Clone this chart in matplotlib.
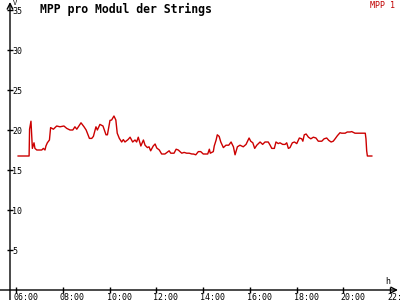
import matplotlib
matplotlib.use("Agg")
import matplotlib.pyplot as plt
import matplotlib.transforms as mtransforms

plt.rcParams['font.family'] = 'DejaVu Sans Mono'

# time of day in hours, string MPP in V
hours = [6.09, 6.56, 6.58, 6.64, 6.70, 6.77, 6.81, 6.89, 7.03, 7.10,
         7.17, 7.24, 7.28, 7.34, 7.43, 7.48, 7.60, 7.74, 7.88, 8.05,
         8.17, 8.31, 8.43, 8.52, 8.60, 8.78, 8.91, 9.00, 9.14, 9.24,
         9.31, 9.42, 9.48, 9.59, 9.72, 9.85, 9.91, 10.02, 10.09, 10.19,
         10.27, 10.33, 10.42, 10.52, 10.59, 10.66, 10.79, 10.88, 10.99, 11.09,
         11.16, 11.23, 11.34, 11.45, 11.52, 11.62, 11.69, 11.76, 11.87, 11.95,
         12.02, 12.13, 12.23, 12.37, 12.55, 12.62, 12.76, 12.85, 12.94, 13.09,
         13.19, 13.30, 13.41, 13.52, 13.59, 13.69, 13.80, 13.90, 14.01, 14.13,
         14.20, 14.27, 14.31, 14.44, 14.48, 14.56, 14.61, 14.69, 14.76, 14.87,
         14.98, 15.10, 15.20, 15.30, 15.37, 15.41, 15.47, 15.58, 15.72, 15.84,
         15.97, 16.04, 16.13, 16.21, 16.30, 16.44, 16.55, 16.65, 16.79, 16.87,
         16.94, 17.05, 17.12, 17.22, 17.29, 17.41, 17.51, 17.58, 17.65, 17.72,
         17.82, 17.91, 18.01, 18.12, 18.22, 18.27, 18.33, 18.41, 18.51, 18.61,
         18.72, 18.83, 18.93, 19.08, 19.18, 19.29, 19.38, 19.48, 19.57, 19.65,
         19.75, 19.86, 19.93, 20.08, 20.17, 20.29, 20.36, 20.43, 20.50, 20.94,
         20.97, 21.00, 21.03, 21.22]
mpp_1 = [16.75, 16.75, 20.1, 21.1, 17.7, 18.4, 17.7, 17.5, 17.5, 17.5,
         17.7, 17.5, 18.0, 18.4, 18.75, 20.3, 20.1, 20.5, 20.4, 20.5,
         20.2, 20.0, 20.0, 20.4, 20.1, 20.9, 20.4, 20.0, 18.95, 18.95,
         19.2, 20.4, 20.0, 20.7, 20.5, 19.4, 19.4, 21.2, 21.25, 21.75,
         21.25, 19.6, 18.95, 18.5, 18.8, 18.5, 18.8, 19.1, 18.5, 18.75,
         18.5, 19.1, 18.0, 18.75, 18.1, 17.8, 17.9, 17.4, 18.0, 18.25,
         17.75, 17.5, 17.0, 17.0, 17.4, 17.1, 17.1, 17.6, 17.5, 17.1,
         17.2, 17.1, 17.1, 17.0, 17.0, 16.9, 17.3, 17.3, 17.0, 17.0,
         17.0, 17.6, 17.1, 17.3, 18.0, 18.75, 19.4, 19.2, 18.5, 17.8,
         18.1, 18.1, 18.5, 17.9, 16.9, 17.3, 17.9, 18.1, 17.9, 18.2,
         19.0, 18.6, 18.4, 17.7, 18.1, 18.5, 18.2, 18.5, 18.5, 18.1,
         17.7, 17.7, 18.5, 18.3, 18.4, 18.2, 18.2, 18.4, 17.7, 17.8,
         18.4, 18.5, 18.3, 19.0, 18.9, 18.6, 19.4, 19.5, 19.1, 18.9,
         19.1, 19.0, 18.6, 18.6, 18.9, 19.0, 18.7, 18.5, 18.6, 18.9,
         19.3, 19.66, 19.6, 19.6, 19.75, 19.75, 19.8, 19.7, 19.6, 19.6,
         18.9, 17.4, 16.75, 16.75]

x_ticks = [6, 8, 10, 12, 14, 16, 18, 20, 22]
x_labels = ['06:00', '08:00', '10:00', '12:00', '14:00', '16:00', '18:00', '20:00', '22:00']
y_ticks = [5, 10, 15, 20, 25, 30, 35]

fig = plt.figure(figsize=(4, 3), dpi=100)
ax = fig.add_axes([10 / 400, 10 / 300, 388 / 400, 288 / 300])

ax.plot(hours, mpp_1, color='#cc0000', lw=1.0)

ax.set_xlim(5.743, 22.34)
ax.set_ylim(0, 36)

# axes drawn as arrows instead of spines
for s in ax.spines.values():
    s.set_visible(False)
ax.annotate('', xy=(1.0, 0), xytext=(-0.03, 0), xycoords='axes fraction',
            arrowprops=dict(arrowstyle='->', color='black', lw=1.0, shrinkA=0, shrinkB=0))
ax.annotate('', xy=(0, 1.0), xytext=(0, -0.04), xycoords='axes fraction',
            arrowprops=dict(arrowstyle='->', color='black', lw=1.0, shrinkA=0, shrinkB=0))

ax.set_xticks(x_ticks)
ax.set_xticklabels(x_labels)
ax.set_yticks(y_ticks)
ax.tick_params(axis='x', direction='inout', length=5, width=1, pad=0, labelsize=6)
ax.tick_params(axis='y', direction='inout', length=5, width=1, pad=-4, labelsize=6)
for lab in ax.get_yticklabels():
    lab.set_ha('left')
shift = mtransforms.ScaledTranslation(-3 / 100, 0, fig.dpi_scale_trans)
for lab in ax.get_xticklabels():
    lab.set_ha('left')
    lab.set_transform(lab.get_transform() + shift)

fig.text(40 / 400, 1 - 3 / 300, 'MPP pro Modul der Strings', fontsize=8.3,
         fontweight='bold', va='top', ha='left')
fig.text(395 / 400, 1 - 1 / 300, 'MPP 1', fontsize=6, color='#c00000',
         va='top', ha='right')
fig.text(13 / 400, 1 - 0 / 300, 'V', fontsize=5, va='top', ha='left')
fig.text(388 / 400, 1 - 277 / 300, 'h', fontsize=6, va='top', ha='center')

fig.savefig('out.png', dpi=100, facecolor='white')
